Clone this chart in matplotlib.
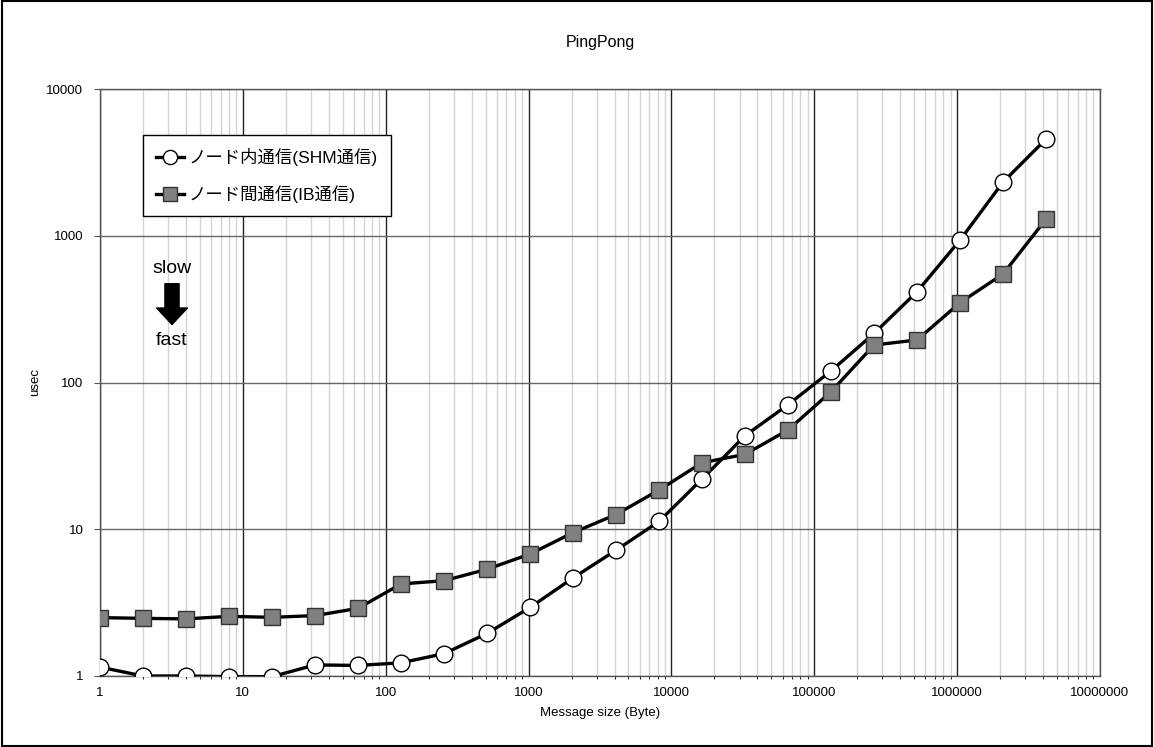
import matplotlib
matplotlib.use('Agg')
import matplotlib.pyplot as plt
from matplotlib.patches import Rectangle
from matplotlib.ticker import FixedLocator, LogLocator, NullFormatter

plt.rcParams['font.family'] = ['Liberation Sans', 'Noto Sans CJK JP', 'DejaVu Sans']

# message sizes: 2^0 .. 2^22 bytes
sizes = [2 ** k for k in range(23)]
shm_usec = [1.15, 1.0, 1.0, 0.99, 0.99, 1.19, 1.18, 1.23, 1.42, 1.95, 2.93, 4.66,
            7.2, 11.3, 22.0, 43.4, 70.6, 120, 216, 416, 935, 2323, 4565]
ib_usec = [2.50, 2.47, 2.45, 2.55, 2.51, 2.58, 2.89, 4.24, 4.46, 5.34, 6.78, 9.48,
           12.6, 18.5, 28.4, 32.4, 47.5, 86.6, 180, 195, 350, 549, 1300]
labels = ['ノード内通信(SHM通信)', 'ノード間通信(IB通信)']
x_ticks = [1, 10, 100, 1000, 10000, 100000, 1000000, 10000000]
y_ticks = [1, 10, 100, 1000, 10000]

fig = plt.figure(figsize=(11.54, 7.47), dpi=100)
ax = fig.add_axes([100 / 1154, 1 - 676 / 747, 1000 / 1154, 587 / 747])

ax.plot(sizes, shm_usec, color='black', lw=2.4, marker='o', ms=12,
        mfc='white', mec='black', mew=1.0, label=labels[0], zorder=3)
ax.plot(sizes, ib_usec, color='black', lw=2.4, marker='s', ms=12,
        mfc='#808080', mec='#333333', mew=1.0, label=labels[1], zorder=3)

ax.set_xscale('log')
ax.set_yscale('log')
ax.set_xlim(1, 1e7)
ax.set_ylim(1, 1e4)
ax.xaxis.set_major_locator(FixedLocator(x_ticks))
ax.yaxis.set_major_locator(FixedLocator(y_ticks))
ax.set_xticklabels([str(v) for v in x_ticks])
ax.set_yticklabels([str(v) for v in y_ticks])
ax.xaxis.set_minor_locator(LogLocator(base=10, subs=range(2, 10), numticks=20))
ax.xaxis.set_minor_formatter(NullFormatter())
ax.yaxis.set_minor_locator(FixedLocator([]))
ax.tick_params(axis='both', labelsize=9.5, length=0, pad=8)
ax.tick_params(axis='y', length=4, direction='out', color='#555555')

ax.grid(True, which='minor', axis='x', color='#d4d4d4', lw=1.0, zorder=0)
ax.grid(True, which='major', axis='x', color='#222222', lw=1.0, zorder=1)
ax.grid(True, which='major', axis='y', color='#666666', lw=1.0, zorder=1)
for s in ax.spines.values():
    s.set_color('#555555')
    s.set_linewidth(1.0)

ax.set_title('PingPong', fontsize=11.5, pad=30)
ax.set_xlabel('Message size (Byte)', fontsize=9.5, labelpad=6)
ax.set_ylabel('usec', fontsize=9.5, labelpad=4)

leg = ax.legend(loc='upper left', bbox_to_anchor=(0.043, 0.922), borderaxespad=0,
                fontsize=12.5, frameon=True, fancybox=False, edgecolor='black',
                framealpha=1, handlelength=1.6, handletextpad=0.3, labelspacing=1.1,
                borderpad=0.75, markerscale=0.85)
leg.get_frame().set_linewidth(1.0)

# slow / fast annotation
ax.text(0.072, 0.695, 'slow', transform=ax.transAxes, ha='center', va='center', fontsize=14)
ax.annotate('', xy=(0.072, 0.594), xytext=(0.072, 0.673), xycoords='axes fraction',
            arrowprops=dict(arrowstyle='simple,head_length=0.7,head_width=1.3,tail_width=0.6',
                            fc='black', ec='black', mutation_scale=17))
ax.text(0.072, 0.572, 'fast', transform=ax.transAxes, ha='center', va='center', fontsize=14)

fig.patches.append(Rectangle((0.002, 0.002), 0.996, 0.996, transform=fig.transFigure,
                             fill=False, edgecolor='black', lw=1.5))

fig.savefig('out.png', dpi=100)
plt.close(fig)
